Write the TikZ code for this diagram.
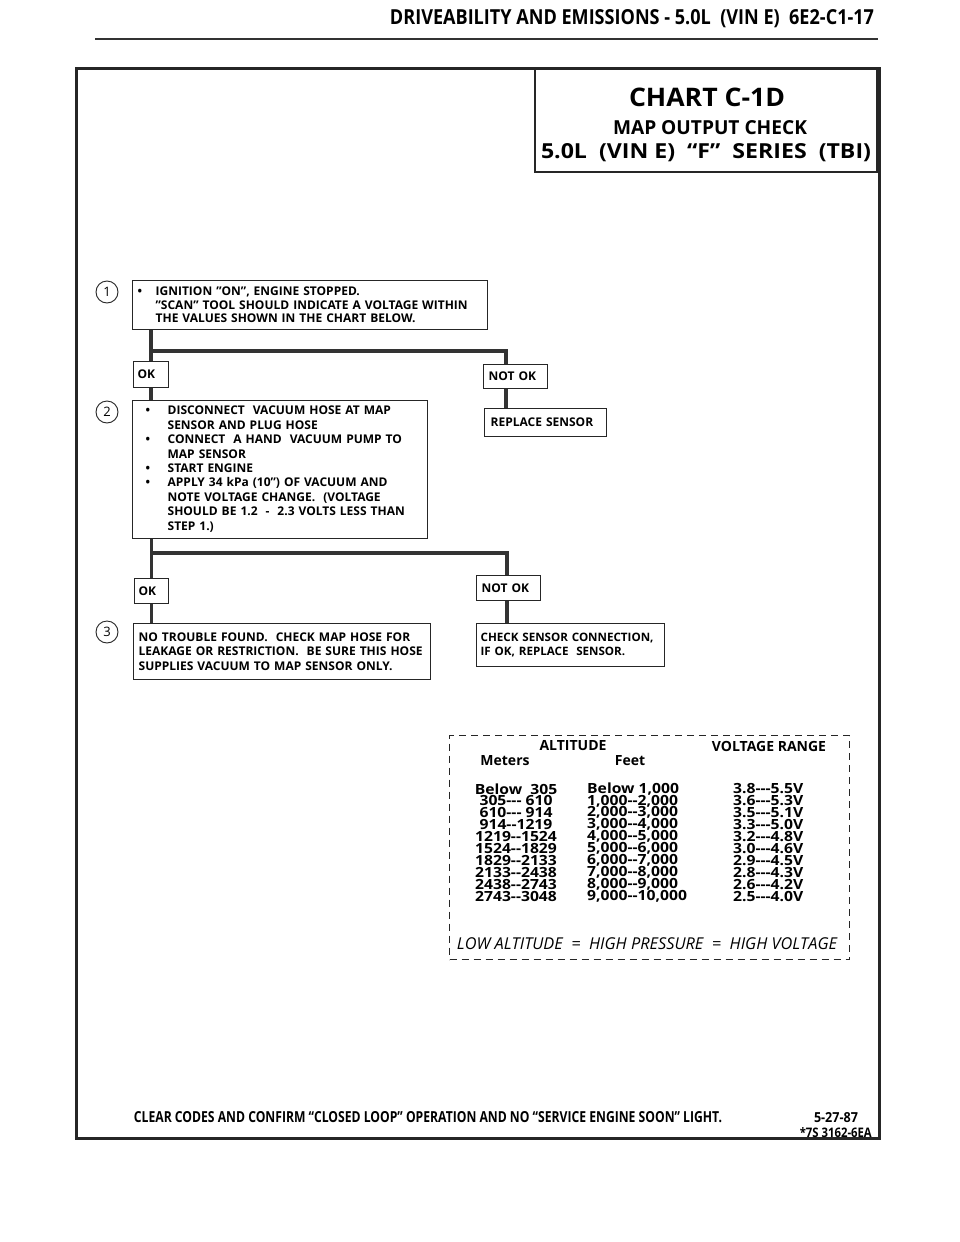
\documentclass[tikz,border=0pt]{standalone}
\usepackage{fontspec}
\setmainfont{Open Sans}[Ligatures=TeXOff]
\newfontfamily\condfont[FakeStretch=0.80,Ligatures=TeXOff]{Open Sans}
\newfontfamily\widefont[FakeStretch=1.12,Ligatures=TeXOff]{Open Sans}
\newcommand\boxfont{\bfseries\fontsize{12}{13.7}\selectfont}
\newcommand\tabfont{\widefont\bfseries\fontsize{14}{12}\selectfont}
\newcommand\bl{\textbullet}
\begin{document}
\begin{tikzpicture}[x=1pt,y=-1pt,
  frame/.style={draw=black!85, line width=3},
  conn/.style={draw=black!80, line width=3.4},
  box/.style={draw=black!85, line width=1.3, rectangle, anchor=north west,
    inner xsep=5, inner ysep=0, align=left, font=\boxfont},
  lbl/.style={inner sep=0},
  circ/.style={draw=black!85, circle, line width=0.9, minimum size=22, inner sep=0,
    font=\fontsize{13}{13}\selectfont},
  tab/.style={inner sep=0, font=\tabfont},
  tabhead/.style={inner sep=0, font=\bfseries\fontsize{14}{14}\selectfont}
]
\useasboundingbox (0,0) rectangle (960,1242);
\fill[white] (0,0) rectangle (960,1242);

% header
\node[lbl, font=\bfseries] (hdr) at (632,19) {\resizebox{484pt}{15pt}{DRIVEABILITY AND EMISSIONS - 5.0L\ \ (VIN E)\ \ 6E2-C1-17}};
\coordinate (rl) at (95,39);
\coordinate (rr) at (878,39);
\draw[black!80, line width=2.2] (rl) -- (rr);

% frame
\node[frame, rectangle, anchor=north west, minimum width=803, minimum height=1070, inner sep=0] (frm) at (75,67) {};
\node[draw=black!85, line width=1.8, rectangle, anchor=north east, minimum width=342, minimum height=104, inner sep=0] (title) at (878,67) {};
\node[lbl, font=\bfseries] (t1) at (707,97) {\resizebox{156pt}{18.5pt}{CHART C-1D}};
\node[lbl, font=\bfseries] (t2) at (710,128) {\resizebox{194pt}{14pt}{MAP OUTPUT CHECK}};
\node[lbl, font=\bfseries] (t3) at (706,153) {\resizebox{330pt}{15pt}{5.0L\ \ (VIN E)\ \ “F”\ \ SERIES\ \ (TBI)}};

% step 1
\node[circ] (c1) at (107,292) {1};
\node[box, text width=345, minimum height=49] (s1) at (132,280)
 {\begin{tabular}{@{}p{18pt}@{}l@{}}\rule{0pt}{12pt}\bl & IGNITION ”ON”, ENGINE STOPPED.\\
  & ”SCAN” TOOL SHOULD INDICATE A VOLTAGE WITHIN\\
  & THE VALUES SHOWN IN THE CHART BELOW.\end{tabular}};
\node[box, inner xsep=4, text width=27, minimum height=26] (ok1) at (133,361) {OK};
\node[box, text width=54, minimum height=24] (nok1) at (483,364) {NOT OK};
\node[box, inner xsep=6, text width=110, minimum height=28] (rep) at (484,408) {REPLACE SENSOR};
\coordinate (b1) at (506,351);
\draw[conn] (s1.south -| ok1.north) -- (ok1.north);
\draw[conn] (ok1 |- b1) -- (b1) -- (b1 |- nok1.north);
\draw[conn] (b1 |- nok1.south) -- (b1 |- rep.north);

% step 2
\node[circ] (c2) at (107,412) {2};
\node[box, inner xsep=13, text width=269, minimum height=138,
  font=\bfseries\fontsize{12}{14.4}\selectfont] (s2) at (132,400)
 {\begin{tabular}{@{}p{22pt}@{}l@{}}\bl & DISCONNECT\ \ VACUUM HOSE AT MAP\\
  & SENSOR AND PLUG HOSE\\
  \bl & CONNECT\ \ A HAND\ \ VACUUM PUMP TO\\
  & MAP SENSOR\\
  \bl & START ENGINE\\
  \bl & APPLY 34 kPa (10”) OF VACUUM AND\\
  & NOTE VOLTAGE CHANGE.\ \ (VOLTAGE\\
  & SHOULD BE 1.2\ \ -\ \ 2.3 VOLTS LESS THAN\\
  & STEP 1.)\end{tabular}};
\draw[conn] (ok1.south) -- (s2.north -| ok1.south);

\node[box, inner xsep=4, text width=26, minimum height=25] (ok2) at (134,578) {OK};
\node[box, text width=54, minimum height=25] (nok2) at (476,575) {NOT OK};
\coordinate (b2) at (507,553);
\draw[conn] (s2.south -| ok2.north) -- (ok2.north);
\draw[conn] (ok2 |- b2) -- (b2) -- (b2 |- nok2.north);

% step 3
\node[circ] (c3) at (107,632) {3};
\node[box, text width=287, minimum height=56,
  font=\bfseries\fontsize{12}{14.2}\selectfont] (s3) at (133,623)
 {NO TROUBLE FOUND.\ \ CHECK MAP HOSE FOR\\
  LEAKAGE OR RESTRICTION.\ \ BE SURE THIS HOSE\\
  SUPPLIES VACUUM TO MAP SENSOR ONLY.};
\node[box, inner xsep=4, text width=180, minimum height=43,
  font=\bfseries\fontsize{11.6}{14.2}\selectfont] (s3r) at (476,623)
 {\mbox{CHECK SENSOR CONNECTION,}\\
  \mbox{IF OK, REPLACE\ \ SENSOR.}};
\draw[conn] (ok2.south) -- (s3.north -| ok2.south);
\draw[conn] (b2 |- nok2.south) -- (b2 |- s3r.north);

% table
\node[draw=black!85, line width=1.2, dash pattern=on 7pt off 5pt, rectangle, anchor=north west,
  minimum width=400, minimum height=224, inner sep=0] (tbl) at (449,735) {};
\node[tabhead] (h1) at (573,746) {ALTITUDE};
\node[tabhead] (h2) at (769,746) {VOLTAGE RANGE};
\node[tabhead] (h3) at (505,761) {Meters};
\node[tabhead] (h4) at (630,761) {Feet};
\foreach \m/\f/\v [count=\i from 0] in {Below\ \ 305/Below 1{,}000/3.8---5.5V,
  305--- 610/1{,}000--2{,}000/3.6---5.3V,
  610--- 914/2{,}000--3{,}000/3.5---5.1V,
  914--1219/3{,}000--4{,}000/3.3---5.0V,
  1219--1524/4{,}000--5{,}000/3.2---4.8V,
  1524--1829/5{,}000--6{,}000/3.0---4.6V,
  1829--2133/6{,}000--7{,}000/2.9---4.5V,
  2133--2438/7{,}000--8{,}000/2.8---4.3V,
  2438--2743/8{,}000--9{,}000/2.6---4.2V,
  2743--3048/9{,}000--10{,}000/2.5---4.0V}{
  \node[tab] (m\i) at (516,{789+11.9*\i}) {\m};
  \node[tab, anchor=west] (f\i) at (587,{789+11.9*\i}) {\f};
  \node[tab, anchor=west] (v\i) at (733,{789+11.9*\i}) {\v};
}
\node[lbl, font=\itshape] (low) at (647,944)
 {\resizebox{380pt}{!}{LOW ALTITUDE\ \ =\ \ HIGH PRESSURE\ \ =\ \ HIGH VOLTAGE}};

% footer
\node[lbl, font=\condfont\bfseries] (foot) at (428,1117)
 {\resizebox{588pt}{11pt}{CLEAR CODES AND CONFIRM “CLOSED LOOP” OPERATION AND NO “SERVICE ENGINE SOON” LIGHT.}};
\node[lbl, font=\condfont\bfseries] (d1) at (836,1118) {\resizebox{44pt}{10pt}{5-27-87}};
\node[lbl, anchor=east, font=\condfont\bfseries] (d2) at (872,1133) {\resizebox{72pt}{10pt}{*7S 3162-6EA}};
\end{tikzpicture}
\end{document}
